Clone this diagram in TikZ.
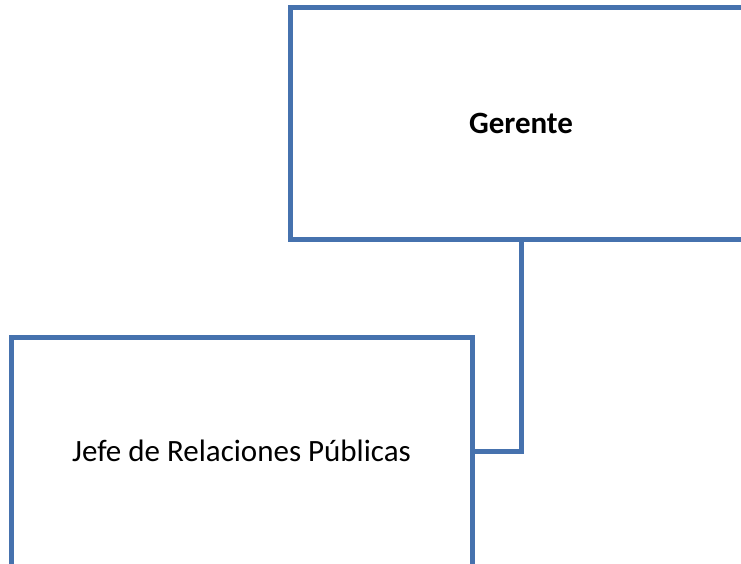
\documentclass[tikz,border=0pt]{standalone}
\usepackage{fontspec}
\setmainfont{Carlito}
\definecolor{boxblue}{RGB}{70,114,174}
\begin{document}
\begin{tikzpicture}[x=1pt,y=-1pt,
  orgbox/.style={draw=boxblue,line width=5pt,line join=miter,fill=none,inner sep=0pt,
    font=\fontsize{31}{37}\selectfont,text=black},
  link/.style={draw=boxblue,line width=5pt,line join=miter}]
\useasboundingbox (0,0) rectangle (741,564);
\clip (0,0) rectangle (741,564);
\node[orgbox,minimum width=462pt,minimum height=231pt] (ger) at (521,123.5) {\raisebox{-3pt}{\textbf{Gerente}}};
\node[orgbox,minimum width=461pt,minimum height=229pt] (jefe) at (241.5,451.5) {\raisebox{1pt}{Jefe de Relaciones Públicas}};
\draw[link] (ger.south) |- (jefe.east);
\end{tikzpicture}
\end{document}
